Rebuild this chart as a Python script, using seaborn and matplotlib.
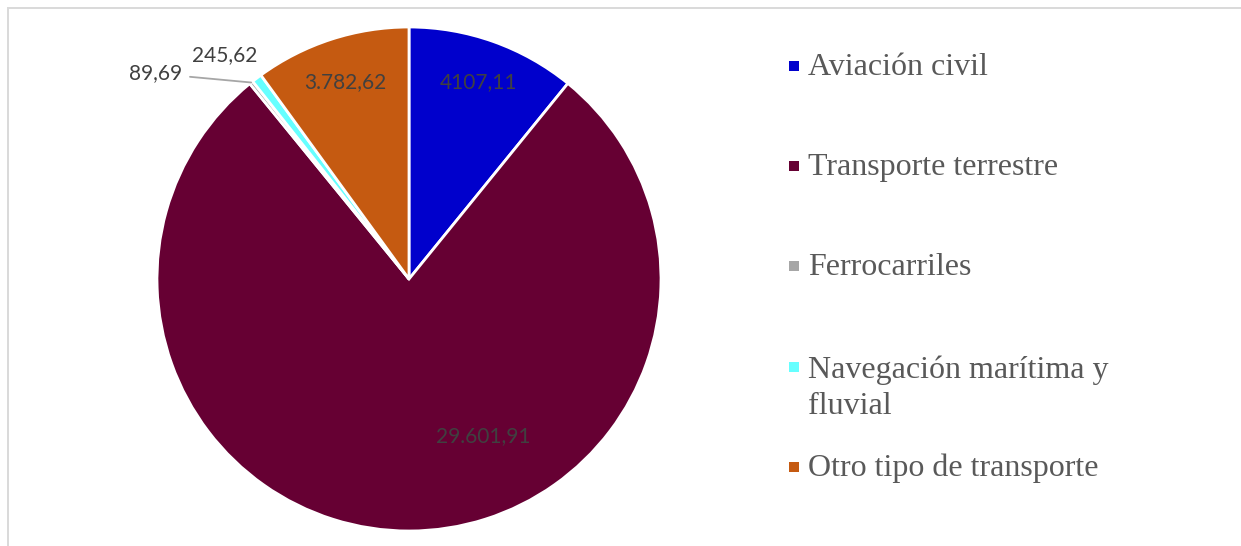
import numpy as np
import matplotlib
matplotlib.use("Agg")
import matplotlib.pyplot as plt
from matplotlib.patches import Rectangle
import seaborn as sns

# data
categories = [
    "Aviación civil",
    "Transporte terrestre",
    "Ferrocarriles",
    "Navegación marítima y\nfluvial",
    "Otro tipo de transporte",
]
values = [4107.11, 29601.91, 89.69, 245.62, 3782.62]
value_labels = ["4107,11", "29.601,91", "89,69", "245,62", "3.782,62"]
colors = ["#0000CC", "#660033", "#A6A6A6", "#66FFFF", "#C55A11"]

sns.set_theme(style="white")
plt.rcParams["font.family"] = ["Lato", "DejaVu Sans"]

W, H = 1241, 546
fig = plt.figure(figsize=(W / 100, H / 100), dpi=100)

# light frame (only top and left edges visible in the crop)
fig.add_artist(Rectangle((8 / W, -0.2), 1.2, (H - 8) / H + 0.2,
                         transform=fig.transFigure, fill=False,
                         edgecolor="#D9D9D9", linewidth=1.4, clip_on=False))

cx, cy, r = 409, H - 279, 252
ax = fig.add_axes([(cx - r) / W, (cy - r) / H, 2 * r / W, 2 * r / H])
wedges, _ = ax.pie(values, colors=colors, startangle=90, counterclock=False,
                   radius=1, wedgeprops=dict(edgecolor="white", linewidth=2))
ax.set_xlim(-1, 1)
ax.set_ylim(-1, 1)
ax.set_aspect("equal")
ax.axis("off")

label_kw = dict(color="#404040", fontsize=15, ha="center", va="center")


def mid_angle(w):
    return np.deg2rad((w.theta1 + w.theta2) / 2)


# labels inside the large slices
for i, dist in [(0, 0.83), (4, 0.82)]:
    a = mid_angle(wedges[i])
    ax.text(dist * np.cos(a), dist * np.sin(a), value_labels[i], **label_kw)
a = np.deg2rad(-64.8)
ax.text(0.69 * np.cos(a), 0.69 * np.sin(a), value_labels[1], **label_kw)

# small slices, labelled outside
a = mid_angle(wedges[3])
ax.annotate(value_labels[3], xy=(np.cos(a), np.sin(a)), xytext=(-0.733, 0.888),
            textcoords="data", **label_kw)
a = mid_angle(wedges[2])
ax.annotate(value_labels[2], xy=(np.cos(a), np.sin(a)), xytext=(-1.004, 0.817),
            textcoords="data",
            arrowprops=dict(arrowstyle="-", color="#A6A6A6", lw=1.3,
                            shrinkA=3, shrinkB=0, relpos=(1, 0.35)),
            **label_kw)

# legend, drawn by hand so the two-line entry keeps its marker on the first line
step = 100.2
line_gap = 38
for i, (cat, col) in enumerate(zip(categories, colors)):
    base = H - (75 + i * step)
    extra = cat.count("\n")
    fig.text(808 / W, (base - extra * line_gap) / H, cat, fontsize=23,
             color="#595959", family="Liberation Serif", va="baseline",
             ha="left", linespacing=1.32)
    fig.add_artist(Rectangle((789 / W, (base + 4) / H), 10 / W, 10 / H,
                             transform=fig.transFigure, facecolor=col,
                             edgecolor="none"))

fig.savefig("out.png", dpi=100)
